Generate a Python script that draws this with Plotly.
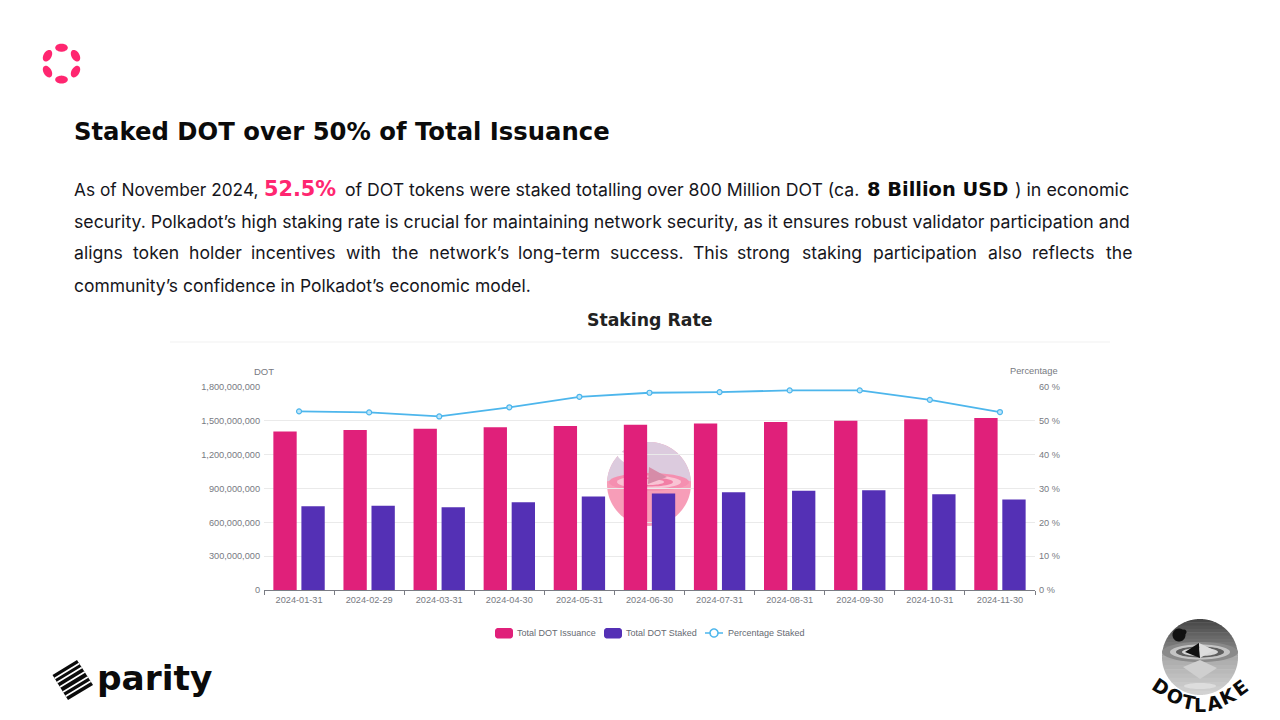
import numpy as np
import plotly.graph_objects as go

# ---- data ----
categories = ["2024-01-31", "2024-02-29", "2024-03-31", "2024-04-30", "2024-05-31", "2024-06-30",
              "2024-07-31", "2024-08-31", "2024-09-30", "2024-10-31", "2024-11-30"]
total_issuance = [1406e6, 1418e6, 1430e6, 1442e6, 1454e6, 1465e6, 1477e6, 1489e6, 1501e6, 1513e6, 1525e6]
total_staked = [743e6, 746e6, 734e6, 779e6, 829e6, 856e6, 867e6, 879e6, 885e6, 850e6, 802e6]
pct_staked = [52.8, 52.5, 51.3, 54.0, 57.1, 58.3, 58.5, 59.0, 59.0, 56.2, 52.6]
series_names = ["Total DOT Issuance", "Total DOT Staked", "Percentage Staked"]
chart_title = "Staking Rate"
slide_title = "Staked DOT over 50% of Total Issuance"

PINK, PURPLE, BLUE = "#E0207A", "#5430B5", "#4DB6EC"
GREY = "#777a82"
W, H = 1280, 720
L, R, T, B = 264, 1035, 387, 590


def X(p):
    return (p - L) / (R - L)


def Y(p):
    return (B - p) / (B - T)


shapes = []
annots = []


def poly(pts, fill, layer="above", line=None, lw=0, close=True):
    d = "M " + " L ".join(f"{X(a):.5f} {Y(b):.5f}" for a, b in pts) + (" Z" if close else "")
    shapes.append(dict(type="path", xref="paper", yref="paper", path=d, fillcolor=fill if close else None,
                       line=dict(color=line or fill, width=lw), layer=layer))


def ell(cx, cy, rx, ry, rot=0, a0=0, a1=360):
    t = np.radians(np.linspace(a0, a1, 49))
    r = np.radians(rot)
    xs, ys = rx * np.cos(t), ry * np.sin(t)
    return list(zip(cx + xs * np.cos(r) - ys * np.sin(r), cy + xs * np.sin(r) + ys * np.cos(r)))


def band(cx, cy, r, y0, y1):
    y0, y1 = max(y0, cy - r), min(y1, cy + r)
    ys = cy + r * np.sin(np.linspace(np.arcsin((y0 - cy) / r), np.arcsin((y1 - cy) / r), 40))
    hw = np.sqrt(np.maximum(r * r - (ys - cy) ** 2, 0))
    return list(zip(cx - hw, ys)) + list(zip(cx + hw[::-1], ys[::-1]))


def rrect(x0, y0, x1, y1, r):
    p = []
    for cx, cy, a in [(x1 - r, y0 + r, -90), (x1 - r, y1 - r, 0), (x0 + r, y1 - r, 90), (x0 + r, y0 + r, 180)]:
        p += ell(cx, cy, r, r, 0, a, a + 90)[::6]
    return p


def txt(x, y, s, size, color="#16161c", family="Inter", anchor="left", rot=0):
    annots.append(dict(xref="paper", yref="paper", x=X(x), y=Y(y), text=s, showarrow=False, xanchor=anchor,
                       yanchor="middle", textangle=rot, borderpad=0, font=dict(size=size, color=color, family=family)))


WIDE = "DejaVu Sans"
txt(73, 132, f"<b>{slide_title}</b>", 24.3, "#0b0b0b", WIDE)
txt(73, 189, "As of November 2024,", 17.3)
txt(263, 189, "<b>52.5%</b>", 20.8, "#FF2670", WIDE)
txt(344, 189, "of DOT tokens were staked totalling over 800 Million DOT (ca.", 17.65)
txt(866, 189, "<b>8 Billion USD</b>", 19.4, "#0b0b0b", WIDE)
txt(1014, 189, ") in economic", 17.85)
txt(73, 221, "security. Polkadot’s high staking rate is crucial for maintaining network security, as it ensures robust validator participation and", 17.68)
for x, w in [(73, "aligns"), (132, "token"), (188, "holder"), (250, "incentives"), (345, "with"), (391, "the"),
             (428, "network’s"), (517, "long-term"), (609, "success."), (692, "This"), (736, "strong"),
             (801, "staking"), (872, "participation"), (987, "also"), (1031, "reflects"), (1105, "the")]:
    txt(x, 253, w, 17.6)
txt(73, 285, "community’s confidence in Polkadot’s economic model.", 17.45)

# chart heading
txt(649, 320, f"<b>{chart_title}</b>", 17.3, "#222", WIDE, anchor="center")
poly([(170, 342), (1110, 342)], None, line="#f1f1f1", lw=1, close=False)
AX = "Liberation Sans"
txt(264, 371, "DOT", 9.5, GREY, AX, anchor="center")
txt(1034, 371, "Percentage", 9.3, GREY, AX, anchor="center")

# watermark behind the bars
cx, cy, r = 649, 484, 42
poly(band(cx, cy, r, cy - r, cy + r), "#F79DB8", "below")
poly(band(cx, cy, r, cy - r, cy - 3), "#DCCBDE", "below")
poly(ell(625, 458, 9, 4, 35), "#FFFFFF", "below")
for rx, ry, col in [(40, 9, "#F58FB0"), (32, 6.5, "#F9C3D4"), (24, 4.5, "#F27FA5"), (15, 3, "#F9C3D4")]:
    poly(ell(cx, cy - 2, rx, ry), col, "below")
poly([(649, 467), (667, 477), (648, 484)], "#D68CA8", "below")

# polkadot logo
for c, rx, ry, rot in [((61.5, 47.7), 6.3, 4, 0), ((61.5, 79.6), 6.3, 4, 0), ((47.5, 55.7), 6.3, 4, -60),
                       ((75.5, 55.7), 6.3, 4, 60), ((47.5, 71.6), 6.3, 4, 60), ((75.5, 71.6), 6.3, 4, -60)]:
    poly(ell(c[0], c[1], rx, ry, rot), "#FF2670")

# parity logo
a, b, c, d = np.array((52.5, 675)), np.array((77, 660)), np.array((93, 685)), np.array((68, 700))
poly([a, b, c, d], "#0b0b0b")
for f in [0.14, 0.3, 0.48, 0.68, 0.85]:
    p = a + (d - a) * f
    q = b + (c - b) * f
    poly([p, q], None, line="#ffffff", lw=1.7, close=False)
txt(96, 678, "<b>parity</b>", 34.4, "#0b0b0b", WIDE)

# dotlake logo
cx, cy, r = 1200, 657, 38
n = 10
for i in range(n):
    y0 = cy - r + i * (33 / n)
    v = int(70 + i * 7)
    poly(band(cx, cy, r, y0, y0 + 33 / n + .5), f"rgb({v},{v},{v})")
for i in range(n):
    y0 = cy - 5 + i * (43 / n)
    v = int(165 + i * 5)
    poly(band(cx, cy, r, y0, y0 + 43 / n + .5), f"rgb({v},{v},{v})")
for rx, ry, col in [(38, 10, "#8a8a8a"), (30, 7.5, "#c4c4c4"), (24, 5.5, "#5f5f5f"), (18, 4, "#d6d6d6")]:
    poly(ell(cx, 652, rx, ry), col)
poly([(1199, 643), (1185, 652), (1200, 658)], "#111111")
poly([(1199, 643), (1214, 650), (1200, 658)], "#dddddd")
poly([(1183, 667), (1200, 679), (1217, 668), (1200, 660)], "#cfcfcf")
poly(ell(1179, 635, 6.5, 6.5), "#111111")
poly(ell(1184, 632, 2.5, 2.5), "#111111")
poly(ell(1200, 686, 16, 3), "#dddddd")
for ch, x, y, rot in [("D", 1161, 687, 33), ("O", 1175, 696, 24), ("T", 1188, 702, 12), ("L", 1200, 705, 0),
                      ("A", 1214, 703, -12), ("K", 1228, 696, -24), ("E", 1240, 688, -36)]:
    txt(x, y, f"<b>{ch}</b>", 19, "#0b0b0b", WIDE, anchor="center", rot=rot)

# legend
LY = 633
poly(rrect(495, 628, 513, 638.5, 3), PINK)
poly(rrect(604, 628, 622, 638.5, 3), PURPLE)
poly([(705, LY), (723, LY)], None, line=BLUE, lw=1.5, close=False)
poly(ell(714, LY, 4, 4), "#ffffff", line=BLUE, lw=1.5)
for x, s in zip([516, 625, 727], series_names):
    txt(x, LY, s, 9, "#666a72", AX)

fig = go.Figure()
fig.add_bar(x=categories, y=total_issuance, name=series_names[0], marker=dict(color=PINK, line_width=0))
fig.add_bar(x=categories, y=total_staked, name=series_names[1], marker=dict(color=PURPLE, line_width=0))
fig.add_scatter(x=categories, y=pct_staked, name=series_names[2], yaxis="y2", mode="lines+markers",
                line=dict(color=BLUE, width=1.8),
                marker=dict(size=5, color="#BFE6FA", line=dict(color=BLUE, width=1.2)))
tf = dict(size=9.2, color=GREY, family=AX)
fig.update_layout(
    width=W, height=H, margin=dict(l=L, r=W - R, t=T, b=H - B, pad=0),
    paper_bgcolor="#ffffff", plot_bgcolor="rgba(0,0,0,0)", showlegend=False,
    barmode="group", bargap=0.2, bargroupgap=0.168,
    shapes=shapes, annotations=annots,
    xaxis=dict(type="category", range=[-0.5, 10.5], tickson="boundaries", ticks="outside", ticklen=4,
               tickcolor="#7a7c84", tickwidth=1, showline=True, linecolor="#7a7c84", linewidth=1, showgrid=False,
               tickfont=tf, tickangle=0, ticklabelstandoff=1, automargin=False),
    yaxis=dict(range=[0, 1.8e9], dtick=3e8, tickformat=",", gridcolor="#eaeaea", gridwidth=1, zeroline=False,
               showline=False, tickfont=tf, ticklabelstandoff=3, automargin=False),
    yaxis2=dict(range=[0, 60], dtick=10, ticksuffix=" %", overlaying="y", side="right", showgrid=False,
                zeroline=False, showline=False, tickfont=tf, ticklabelstandoff=3, automargin=False),
)
fig.write_html("out.html", config=dict(displayModeBar=False),
               post_script="document.body.style.margin='0';document.body.style.overflow='hidden';")
